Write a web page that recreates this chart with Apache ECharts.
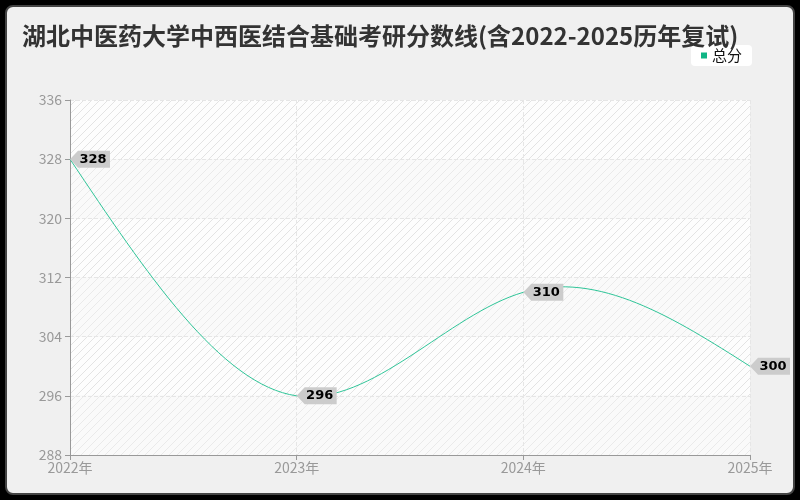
<!DOCTYPE html>
<html><head><meta charset="utf-8">
<script src="https://cdn.jsdelivr.net/npm/echarts@6/dist/echarts.min.js"></script>
<style>
html,body{margin:0;padding:0;background:#000;}
#wrap{position:absolute;left:5px;top:5px;width:786px;height:486px;border:2px solid #444;border-radius:8px;background:#f0f0f0;overflow:hidden;}
#c{position:absolute;left:-7px;top:-7px;width:800px;height:500px;}
</style></head>
<body><div id="wrap"><div id="c"></div></div>
<script>
var categories = ['2022年','2023年','2024年','2025年'];
var scores = [328, 296, 310, 300];
var seriesName = '总分';
var titleText = '湖北中医药大学中西医结合基础考研分数线(含2022-2025历年复试)';

function makeStripe(bg, line){
  var cv = document.createElement('canvas');
  cv.width = 8; cv.height = 8;
  var g = cv.getContext('2d');
  g.fillStyle = bg; g.fillRect(0,0,8,8);
  g.strokeStyle = line;
  g.lineWidth = 1;
  g.beginPath();
  g.moveTo(0,8); g.lineTo(8,0);
  g.moveTo(-4,4); g.lineTo(4,-4);
  g.moveTo(4,12); g.lineTo(12,4);
  g.stroke();
  return {image: cv, repeat: 'repeat'};
}
var plain = makeStripe('#fafafa', 'rgba(200,200,200,0.3)');
var striped = makeStripe('#fdfdfd', 'rgba(215,215,215,0.7)');

// natural cubic spline second derivatives (uniform spacing h = 1)
function splineM(y){
  var n = y.length, M = new Array(n).fill(0);
  if (n < 3) return M;
  var m = n - 2, a = [], b = [], c = [], d = [];
  for (var i = 0; i < m; i++){
    a.push(1); b.push(4); c.push(1);
    d.push(6 * (y[i] - 2*y[i+1] + y[i+2]));
  }
  for (var i = 1; i < m; i++){
    var w = a[i] / b[i-1];
    b[i] -= w * c[i-1]; d[i] -= w * d[i-1];
  }
  var x = new Array(m);
  x[m-1] = d[m-1] / b[m-1];
  for (var i = m - 2; i >= 0; i--) x[i] = (d[i] - c[i] * x[i+1]) / b[i];
  for (var i = 0; i < m; i++) M[i+1] = x[i];
  return M;
}

function renderCurve(params, api){
  if (params.dataIndex !== 0) return null;
  var y = scores, M = splineM(y);
  var px = y.map(function(v, i){ return api.coord([i, v])[0]; });
  function py(v){ return api.coord([0, v])[1]; }
  var d = 'M' + px[0] + ' ' + py(y[0]);
  for (var i = 0; i < y.length - 1; i++){
    var s = y[i+1] - y[i];
    var d0 = s - (M[i]/3 + M[i+1]/6);
    var d1 = s + (M[i]/6 + M[i+1]/3);
    var w = px[i+1] - px[i];
    d += ' C' + (px[i] + w/3) + ' ' + py(y[i] + d0/3) + ' ' +
         (px[i] + 2*w/3) + ' ' + py(y[i+1] - d1/3) + ' ' +
         px[i+1] + ' ' + py(y[i+1]);
  }
  return {
    type: 'path',
    shape: {pathData: d},
    style: {fill: null, stroke: '#2fc598', lineWidth: 1}
  };
}

var chart = echarts.init(document.getElementById('c'));
chart.setOption({
  backgroundColor: 'transparent',
  textStyle: {fontFamily: '"Noto Sans CJK SC","Noto Sans",sans-serif'},
  title: {
    text: titleText, left: 17, top: 19,
    textStyle: {fontSize: 24, fontWeight: 'bold', color: '#333', fontFamily: '"Noto Sans CJK SC",sans-serif'}
  },
  legend: {
    data: [{name: seriesName, icon: 'rect', itemStyle: {color: '#10b585'}}], right: 48, top: 45,
    backgroundColor: '#fff', borderRadius: 4, padding: [3, 10, 3, 10],
    itemWidth: 6, itemHeight: 6, itemGap: 5,
    textStyle: {fontSize: 15, color: '#111'}
  },
  grid: {left: 70, right: 50, top: 100, bottom: 45},
  xAxis: {
    type: 'category', data: categories, boundaryGap: false,
    axisLine: {lineStyle: {color: '#999'}},
    axisTick: {show: true, lineStyle: {color: '#999'}},
    axisLabel: {color: '#999', fontSize: 14, margin: 6},
    splitLine: {show: true, lineStyle: {color: '#e6e6e6', type: 'dashed'}}
  },
  yAxis: {
    type: 'value', min: 288, max: 336, interval: 8,
    axisLine: {show: true, lineStyle: {color: '#999'}},
    axisTick: {show: true, lineStyle: {color: '#999'}},
    axisLabel: {color: '#999', fontSize: 14, margin: 8},
    splitLine: {show: true, lineStyle: {color: '#e6e6e6', type: 'dashed'}},
    splitArea: {show: true, areaStyle: {color: [plain, striped]}}
  },
  series: [{
    name: seriesName, type: 'custom', renderItem: renderCurve,
    data: scores.map(function(v, i){ return [i, v]; }),
    itemStyle: {color: '#10b585'}, z: 2
  }, {
    name: '_labels', type: 'line', data: scores, symbol: 'none',
    lineStyle: {width: 0, opacity: 0}, z: 3,
    markPoint: {
      symbol: 'path://M0,8 L8,0 L40,0 L40,16 L8,16 Z',
      symbolSize: [40, 17], symbolKeepAspect: false, symbolOffset: [20, 0],
      itemStyle: {color: '#cccccc'},
      label: {show: true, position: 'inside', offset: [3, 0], color: '#000', fontSize: 13, fontWeight: 'bold',
        fontFamily: '"DejaVu Sans",sans-serif', formatter: function(p){ return p.value; }},
      data: scores.map(function(v, i){ return {coord: [categories[i], v], value: v}; })
    }
  }]
});
</script></body></html>
